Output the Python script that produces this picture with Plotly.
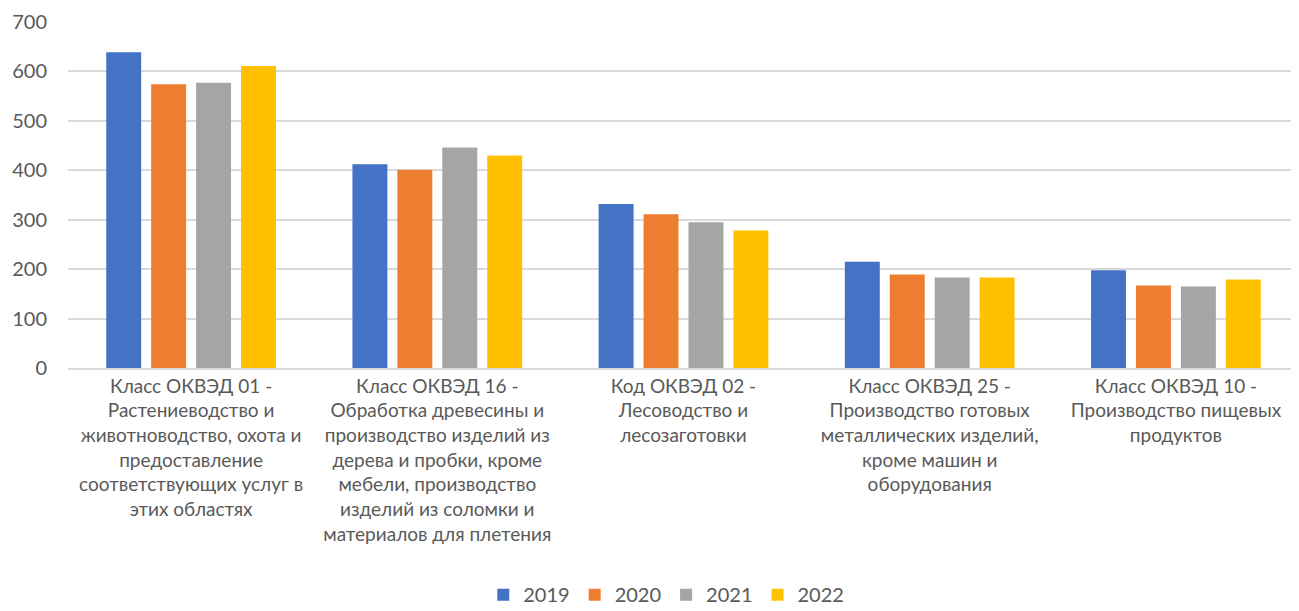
import plotly.graph_objects as go

categories = [
    "Класс ОКВЭД 01 -<br>Растениеводство и<br>животноводство, охота и<br>предоставление<br>соответствующих услуг в<br>этих областях",
    "Класс ОКВЭД 16 -<br>Обработка древесины и<br>производство изделий из<br>дерева и пробки, кроме<br>мебели, производство<br>изделий из соломки и<br>материалов для плетения",
    "Код ОКВЭД 02 -<br>Лесоводство и<br>лесозаготовки",
    "Класс ОКВЭД 25 -<br>Производство готовых<br>металлических изделий,<br>кроме машин и<br>оборудования",
    "Класс ОКВЭД 10 -<br>Производство пищевых<br>продуктов",
]
years = ["2019", "2020", "2021", "2022"]
v2019 = [639, 412, 332, 215, 198]
v2020 = [574, 401, 311, 189, 167]
v2021 = [577, 446, 295, 183, 165]
v2022 = [611, 430, 278, 183, 179]
colors = ["#4472C4", "#ED7D31", "#A5A5A5", "#FFC000"]

fig = go.Figure()
for name, vals, c in zip(years, [v2019, v2020, v2021, v2022], colors):
    fig.add_trace(go.Bar(name=name, x=categories, y=vals, marker_color=c,
                         marker_line_width=0))

font = "Lato, 'Open Sans', sans-serif"
fig.update_layout(
    width=1291, height=603,
    margin=dict(l=60, r=0, t=14, b=243, autoexpand=False),
    plot_bgcolor="white", paper_bgcolor="white",
    barmode="group", bargap=0.27, bargroupgap=0.222,
    font=dict(family=font, size=19, color="#595959"),
    legend=dict(orientation="h", x=0.486, xanchor="center", y=-0.655, yanchor="middle",
                font=dict(size=20, color="#595959"), itemwidth=30, tracegroupgap=0),
    yaxis=dict(range=[0, 700], dtick=100, gridcolor="#D9D9D9", gridwidth=1.5,
               zeroline=False, showline=False, tickfont=dict(size=20),
               ticklabelstandoff=20, automargin=False),
    xaxis=dict(showline=True, linecolor="#D9D9D9", linewidth=1.5,
               tickfont=dict(size=19), tickangle=0, automargin=False),
)
fig.write_html("out.html")
